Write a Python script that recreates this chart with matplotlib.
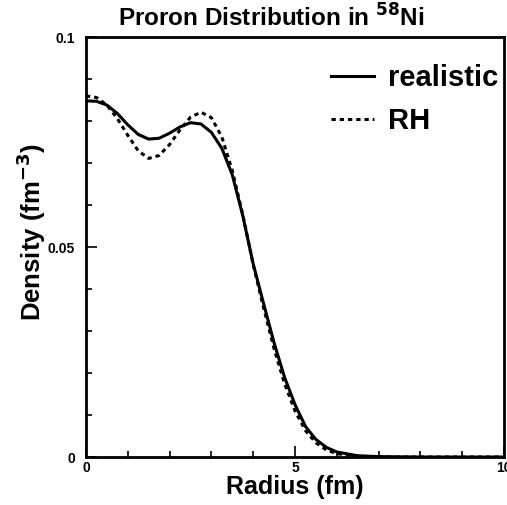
import numpy as np
import matplotlib
matplotlib.use('Agg')
import matplotlib.pyplot as plt
from matplotlib.ticker import MultipleLocator

plt.rcParams['font.family'] = ['Liberation Sans', 'DejaVu Sans']
plt.rcParams['font.weight'] = 'bold'
plt.rcParams['mathtext.default'] = 'bf'

# ── data ─────────────────────────────────────────────────────────────
radius = [0.0, 0.25, 0.5, 0.75, 1.0, 1.25, 1.5, 1.75, 2.0, 2.25, 2.5, 2.75,
          3.0, 3.25, 3.5, 3.75, 4.0, 4.25, 4.5, 4.75, 5.0, 5.25, 5.5, 5.75,
          6.0, 6.5, 7.0, 8.0, 10.0]
realistic = [0.0848, 0.0847, 0.0838, 0.0818, 0.0791, 0.0768, 0.0757, 0.0759,
             0.0771, 0.0786, 0.0796, 0.0793, 0.0773, 0.0735, 0.0672, 0.0575,
             0.0460, 0.0365, 0.0272, 0.0190, 0.0125, 0.0073, 0.0042, 0.0023,
             0.0012, 0.0003, 0.0001, 0.0, 0.0]
rh = [0.0860, 0.0856, 0.0838, 0.0806, 0.0766, 0.0729, 0.0711, 0.0718,
      0.0744, 0.0779, 0.0809, 0.0821, 0.0808, 0.0762, 0.0682, 0.0578,
      0.0458, 0.0355, 0.0258, 0.0175, 0.0110, 0.0063, 0.0034, 0.0017,
      0.0008, 0.0002, 0.0, 0.0, 0.0]
series_labels = ['realistic', 'RH']

fig = plt.figure(figsize=(5.07, 5.05), dpi=100)
ax = fig.add_axes([0.1696, 0.095, 0.8244, 0.8317])

ax.plot(radius, realistic, color='black', lw=2.2, label=series_labels[0])
ax.plot(radius, rh, color='black', lw=2.2, ls=(0, (1.4, 1.3)),
        label=series_labels[1])

ax.set_xlim(0, 10)
ax.set_ylim(0, 0.1)
ax.xaxis.set_minor_locator(MultipleLocator(1))
ax.yaxis.set_minor_locator(MultipleLocator(0.01))
ax.set_xticks([0, 5, 10])
ax.set_xticklabels(['0', '5', '10'])
ax.set_yticks([0, 0.05, 0.1])
ax.set_yticklabels(['0', '0.05', '0.1'])
ax.tick_params(which='both', direction='in', width=1.2, labelsize=10)
ax.tick_params(axis='y', pad=8)
ax.tick_params(axis='x', pad=3)
ax.tick_params(which='major', length=8)
ax.tick_params(which='minor', length=4)
for sp in ax.spines.values():
    sp.set_linewidth(2.0)

ax.set_xlabel('Radius (fm)', fontsize=18, fontweight='bold', labelpad=0)
ax.set_ylabel('Density (fm$^{-3}$)', fontsize=18.5, fontweight='bold')
ax.yaxis.set_label_coords(-0.09, 0.535)
fig.text(0.535, 0.948, 'Proron Distribution in $^{58}$Ni', fontsize=17.5,
         fontweight='bold', ha='center', va='baseline')

leg = ax.legend(loc='upper right', bbox_to_anchor=(1.022, 0.97),
                frameon=False, fontsize=21, handlelength=1.45,
                handletextpad=0.5, labelspacing=0.5, borderaxespad=0.1)
for t in leg.get_texts():
    t.set_fontweight('bold')

fig.savefig('out.png', dpi=100)
